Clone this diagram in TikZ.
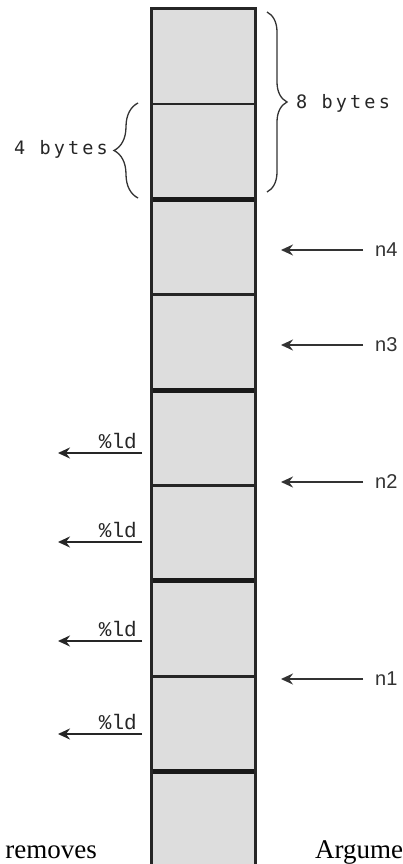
\documentclass[tikz,border=0pt]{standalone}
\usepackage{fontspec}
\setmainfont{Liberation Serif}
\newfontfamily\bytefont{DejaVu Sans Mono}[LetterSpace=17]
\newfontfamily\ldfont{Liberation Mono}
\newfontfamily\nfont{Liberation Sans}
\usetikzlibrary{arrows.meta,decorations.pathreplacing}
\definecolor{cellfill}{HTML}{DDDDDD}
\begin{document}
\begin{tikzpicture}[x=1pt,y=-1pt,
  thinsep/.style={line width=2.6pt, draw=black!85},
  thicksep/.style={line width=5pt, draw=black!90},
  colborder/.style={line width=3pt, draw=black!85},
  narr/.style={-{Stealth[length=12pt,width=11pt,inset=4pt]}, line width=1.6pt, draw=black!80},
  ldarr/.style={-{Stealth[length=12pt,width=11pt,inset=4pt]}, line width=2.3pt, draw=black!85},
  bracestyle/.style={decorate, line width=1.3pt, draw=black!80},
  nlab/.style={inner sep=0pt, font=\nfont\fontsize{20}{22}\selectfont, text=black!80},
  ldlab/.style={inner sep=0pt, font=\ldfont\fontsize{21}{22}\selectfont, text=black!85},
  bytelab/.style={inner sep=0pt, font=\bytefont\fontsize{18.5}{20}\selectfont, text=black!85},
  serlab/.style={inner sep=0pt, font=\fontsize{27}{29}\selectfont}]
\clip (0,0) rectangle (403,864);
\fill[white] (0,0) rectangle (403,864);
% column
\fill[cellfill] (151,9) rectangle (255,880);
\foreach \yy in {103.9,294.7,485.5,676.3} {\draw[thinsep] (151,\yy) -- (255,\yy);}
\foreach \yy in {199.3,390.1,580.9,771.7} {\draw[thicksep] (151,\yy) -- (255,\yy);}
\draw[colborder] (151,880) -- (151,9) -- (255,9) -- (255,880);
% braces
\coordinate (rbt) at (267,12);
\coordinate (rbb) at (267,192);
\draw[bracestyle, decoration={brace, amplitude=20pt}] (rbt) -- (rbb);
\node[bytelab, anchor=west] (eight) at (296,103) {8 bytes};
\coordinate (lbt) at (138,103);
\coordinate (lbb) at (138,198);
\draw[bracestyle, decoration={brace, amplitude=24pt}] (lbb) -- (lbt);
\node[bytelab, anchor=east] (four) at (108,149) {4 bytes};
% right arrows
\node[nlab, anchor=west] (n4) at (375,250) {n4};
\node[nlab, anchor=west] (n3) at (375,345) {n3};
\node[nlab, anchor=west] (n2) at (375,482) {n2};
\node[nlab, anchor=west] (n1) at (375,679) {n1};
\coordinate (t4) at (281,250);
\coordinate (t3) at (281,345);
\coordinate (t2) at (281,482);
\coordinate (t1) at (281,679);
\draw[narr] ([xshift=-12pt]n4.west) -- (t4);
\draw[narr] ([xshift=-12pt]n3.west) -- (t3);
\draw[narr] ([xshift=-12pt]n2.west) -- (t2);
\draw[narr] ([xshift=-12pt]n1.west) -- (t1);
% left arrows
\foreach \i/\yy in {1/453,2/542,3/641,4/734} {
  \coordinate (s\i) at (142,\yy);
  \coordinate (e\i) at (58,\yy);
  \draw[ldarr] (s\i) -- (e\i);
  \node[ldlab, anchor=base east] (ld\i) at (137,\yy-5) {\%ld};
}
% bottom texts
\node[serlab, anchor=base east] (rem) at (97,858) {removes};
\node[serlab, anchor=base west] (arg) at (315,858) {Argume};
\end{tikzpicture}
\end{document}
